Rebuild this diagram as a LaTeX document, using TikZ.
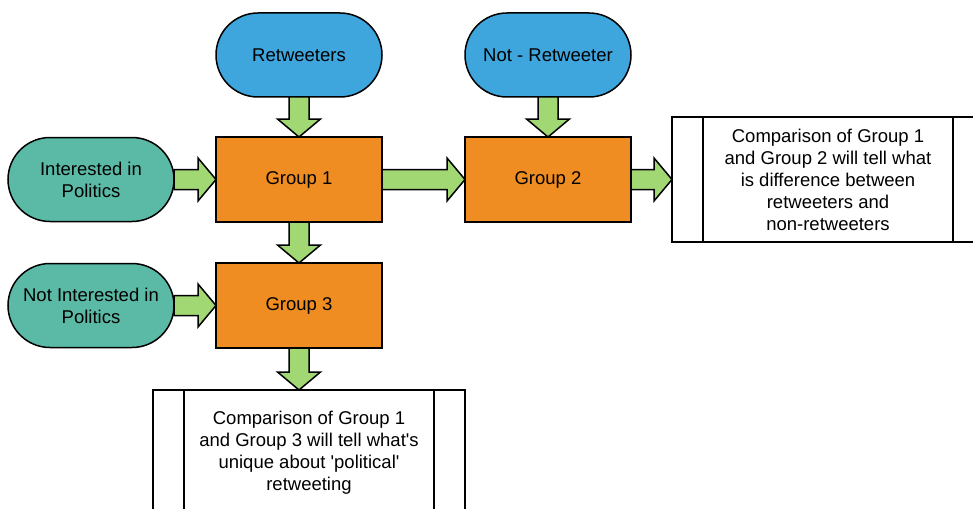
\documentclass[tikz,border=0pt]{standalone}
\usepackage{fontspec}
\setmainfont{Liberation Sans}
\usepackage{tikz}
\usetikzlibrary{positioning}
\usetikzlibrary{shapes,arrows,calc,arrows.meta}

\definecolor{rtblue}{HTML}{3EA5DD}
\definecolor{poltea}{HTML}{5BBAA6}
\definecolor{grporange}{HTML}{EF8C22}
\definecolor{arrgreen}{HTML}{A1D873}

% fat arrow to the right, from (#1) to (#2)
\newcommand{\rarrow}[2]{%
  \draw [fatarrow] let \p1=(#1), \p2=(#2) in
    (\x1,\y1+10pt) -- (\x2-18pt,\y1+10pt) -- (\x2-18pt,\y1+21.5pt) -- (\x2,\y1)
    -- (\x2-18pt,\y1-21.5pt) -- (\x2-18pt,\y1-10pt) -- (\x1,\y1-10pt) -- cycle;}
% fat arrow downwards, from (#1) to (#2)
\newcommand{\darrow}[2]{%
  \draw [fatarrow] let \p1=(#1), \p2=(#2) in
    (\x1-10pt,\y1) -- (\x1-10pt,\y2+18pt) -- (\x1-21.5pt,\y2+18pt) -- (\x1,\y2)
    -- (\x1+21.5pt,\y2+18pt) -- (\x1+10pt,\y2+18pt) -- (\x1+10pt,\y1) -- cycle;}

\begin{document}
\begin{tikzpicture}[x=1pt, y=-1pt,
    font=\fontsize{18.5}{22}\selectfont,
    every node/.style={line width=1.5pt, outer sep=0pt, inner sep=0pt, align=center},
    pill/.style={draw, rounded rectangle, minimum width=166pt, minimum height=84pt},
    source/.style={pill, fill=rtblue},
    interest/.style={pill, fill=poltea},
    group/.style={draw, rectangle, fill=grporange, minimum width=166pt, minimum height=85pt},
    process/.style={draw, rectangle, fill=white, minimum width=312pt, minimum height=125pt},
    fatarrow/.style={draw, fill=arrgreen, line width=1.5pt, line join=miter}]
    \clip (0,0) rectangle (973,508);

    % Nodes
    \node [group] (group1) at (299,179.5) {Group 1};
    \node [group, right=83pt of group1] (group2) {Group 2};
    \node [group, below=41pt of group1] (group3) {Group 3};
    \node [source, above=40pt of group1] (rt) {Retweeters};
    \node [source, above=40pt of group2] (nrt) {Not - Retweeter};
    \node [interest, left=42pt of group1] (pol) {Interested in\\Politics};
    \node [interest, left=42pt of group3] (npol) {Not Interested in\\Politics};
    \node [process, right=41pt of group2] (cmp12) {Comparison of Group 1\\and Group 2 will tell what\\is difference between\\retweeters and\\non-retweeters};
    \node [process, below=42pt of group3, xshift=10pt] (cmp13) {Comparison of Group 1\\and Group 3 will tell what\textquotesingle s\\unique about \textquotesingle political\textquotesingle\\retweeting};

    % side bars of the process boxes
    \draw [line width=1.5pt] ([xshift=31pt]cmp12.north west) -- ([xshift=31pt]cmp12.south west);
    \draw [line width=1.5pt] ([xshift=-31pt]cmp12.north east) -- ([xshift=-31pt]cmp12.south east);
    \draw [line width=1.5pt] ([xshift=31pt]cmp13.north west) -- ([xshift=31pt]cmp13.south west);
    \draw [line width=1.5pt] ([xshift=-31pt]cmp13.north east) -- ([xshift=-31pt]cmp13.south east);

    % Arrows
    \darrow{rt.south}{group1.north}
    \darrow{nrt.south}{group2.north}
    \darrow{group1.south}{group3.north}
    \darrow{group3.south}{cmp13.north}
    \rarrow{pol.east}{group1.west}
    \rarrow{npol.east}{group3.west}
    \rarrow{group1.east}{group2.west}
    \rarrow{group2.east}{cmp12.west}
\end{tikzpicture}
\end{document}
